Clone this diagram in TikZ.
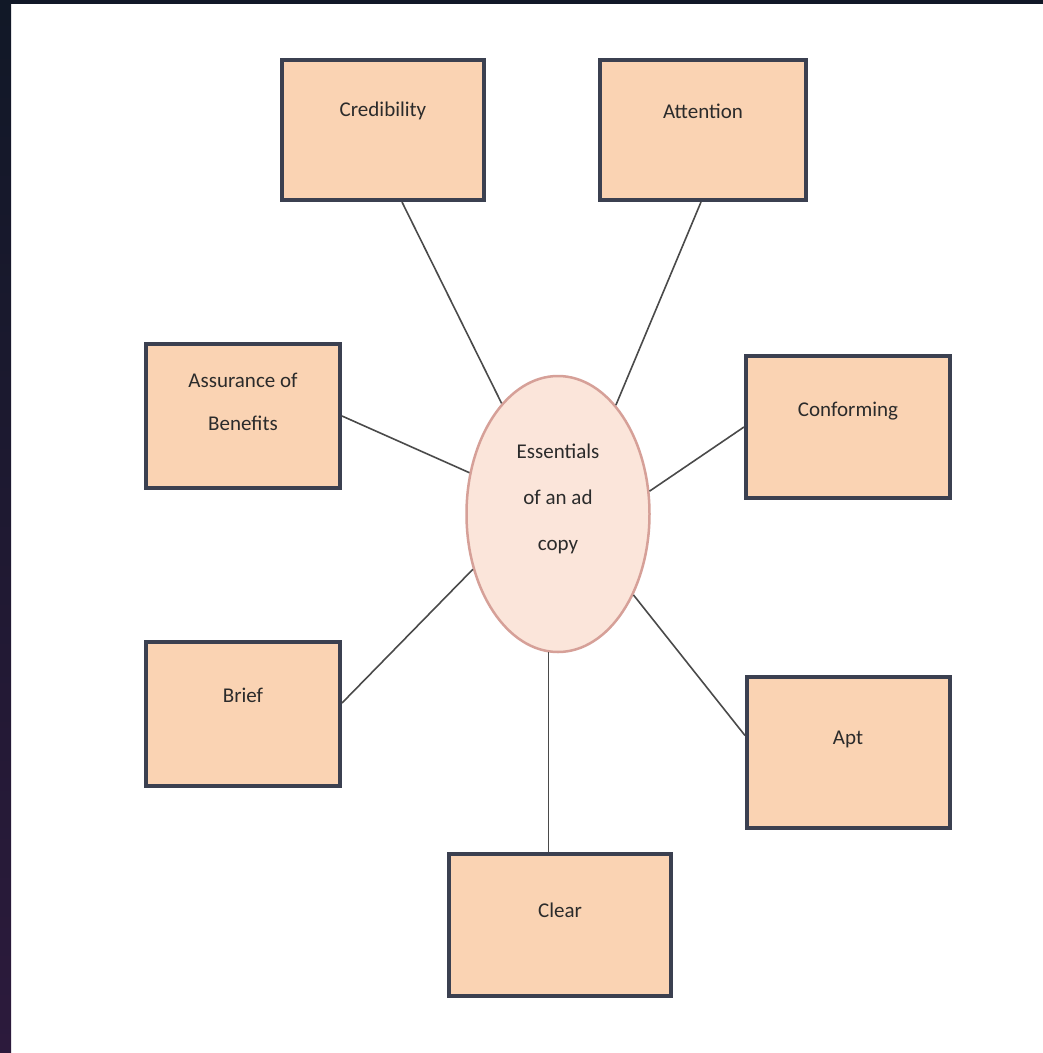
\documentclass[tikz,border=0pt]{standalone}
\usepackage{fontspec}
\setmainfont{Carlito}
\usetikzlibrary{shapes.geometric,calc}
\definecolor{boxfill}{HTML}{FAD3B3}
\definecolor{boxdraw}{HTML}{3B4050}
\definecolor{ellfill}{HTML}{FBE5DA}
\definecolor{elldraw}{HTML}{D6A098}
\definecolor{linkcol}{HTML}{4A4A4A}
\definecolor{txtcol}{HTML}{2B2B2B}
\definecolor{frametop}{HTML}{111827}
\definecolor{framebot}{HTML}{2C1A3C}
\tikzset{
  stepbox/.style={draw=boxdraw, line width=4pt, fill=boxfill, rectangle, inner sep=0pt},
  hub/.style={draw=elldraw, line width=2.5pt, fill=ellfill, ellipse, inner sep=0pt,
              minimum width=183pt, minimum height=276pt},
  lbl/.style={text=txtcol, align=center, inner sep=0pt, font=\fontsize{21}{43}\selectfont},
  link/.style={draw=linkcol, line width=1.6pt}
}
\begin{document}
\begin{tikzpicture}[x=1pt,y=-1pt]
\useasboundingbox (0,0) rectangle (1043,1053);
\fill[white] (0,0) rectangle (1043,1053);
\shade[top color=frametop, bottom color=framebot] (0,0) rectangle (11,1053);
\fill[frametop] (0,0) rectangle (1043,4);

% boxes
\node[stepbox, minimum width=202pt, minimum height=140pt] (cred) at (383,130) {};
\node[stepbox, minimum width=206pt, minimum height=140pt] (attn) at (703,130) {};
\node[stepbox, minimum width=194pt, minimum height=144pt] (assu) at (243,416) {};
\node[stepbox, minimum width=204pt, minimum height=142pt] (conf) at (848,427) {};
\node[stepbox, minimum width=194pt, minimum height=144pt] (brief) at (243,714) {};
\node[stepbox, minimum width=203pt, minimum height=151pt] (apt) at (848.5,752.5) {};
\node[stepbox, minimum width=222pt, minimum height=142pt] (clear) at (560,925) {};

% hub
\node[hub] (ess) at (558,514) {};

% labels
\node[lbl] (credt) at (383,111) {Credibility};
\node[lbl] (attnt) at (703,111) {Attention};
\node[lbl] (assut) at (243,402) {Assurance of\\Benefits};
\node[lbl] (conft) at (848,411) {Conforming};
\node[lbl] (brieft) at (243,695) {Brief};
\node[lbl] (aptt) at (848,739) {Apt};
\node[lbl] (cleart) at (560,910) {Clear};
\node[lbl, font=\fontsize{21}{46}\selectfont] (esst) at (558,499) {Essentials\\of an ad\\copy};

% connectors
\draw[link] ($(cred.south)+(19,0)$) -- (ess.117.6);
\draw[link] ($(attn.south)+(-2,0)$) -- (ess.62.4);
\draw[link] (assu.east) -- (ess.155);
\draw[link] (conf.west) -- (ess.14);
\draw[link] ($(brief.east)+(0,-11)$) -- (ess.213.8);
\draw[link] ($(apt.west)+(0,-17)$) -- (ess.313.3);
\draw[link] (ess.266) -- (ess.266 |- clear.north);
\end{tikzpicture}
\end{document}
